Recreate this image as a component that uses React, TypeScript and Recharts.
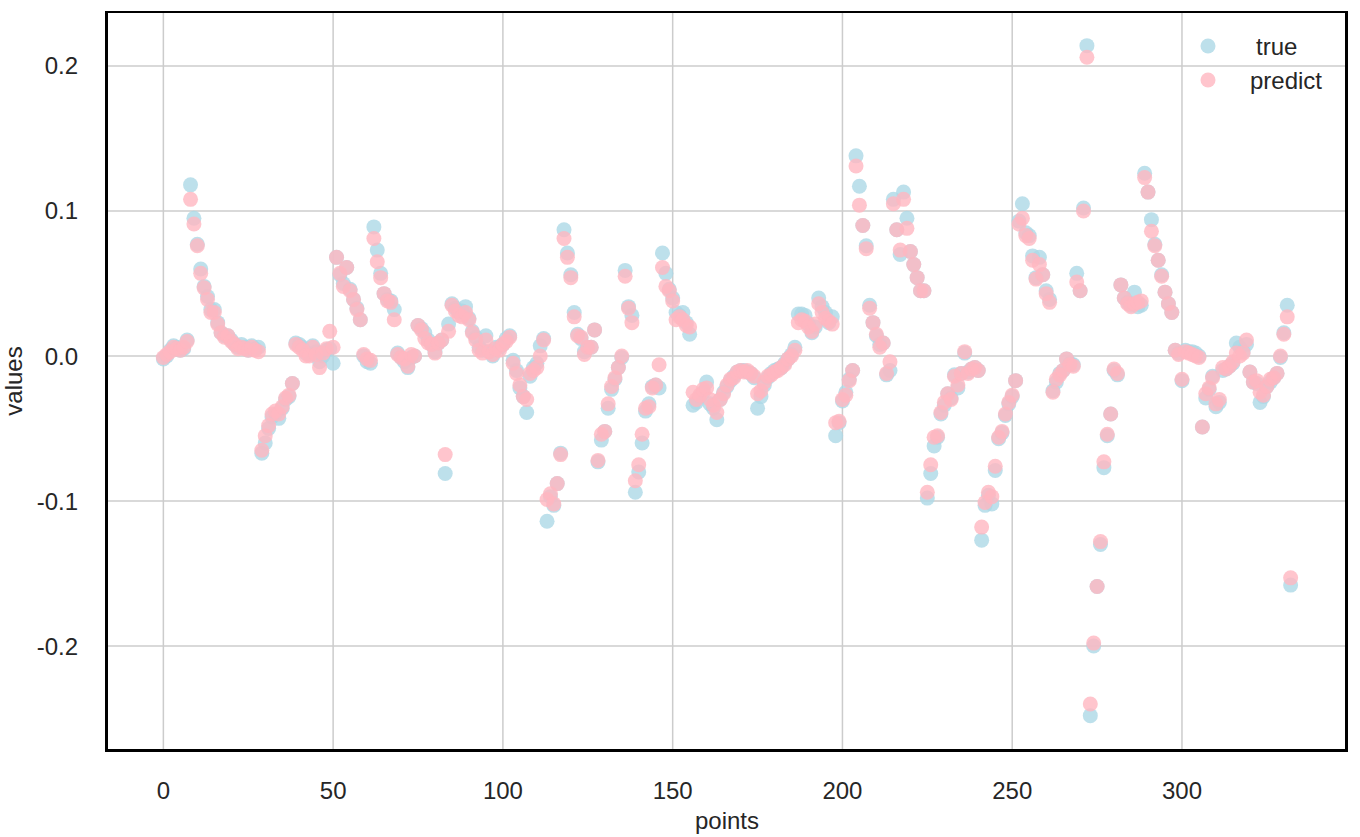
import { ScatterChart, Scatter, XAxis, YAxis, CartesianGrid } from 'recharts'

// values, index = point number
const trueValues = [
  -0.002, 0.0, 0.004, 0.007, 0.006, 0.004, 0.005, 0.011, 0.118, 0.095,
  0.077, 0.06, 0.048, 0.041, 0.032, 0.032, 0.023, 0.016, 0.014, 0.014,
  0.011, 0.008, 0.006, 0.008, 0.006, 0.004, 0.007, 0.005, 0.006, -0.067,
  -0.06, -0.05, -0.042, -0.04, -0.043, -0.036, -0.03, -0.028, -0.019, 0.009,
  0.008, 0.006, 0.002, 0.001, 0.007, 0.003, -0.004, 0.0, 0.004, 0.005,
  -0.005, 0.068, 0.056, 0.05, 0.061, 0.046, 0.039, 0.033, 0.025, 0.0,
  -0.004, -0.005, 0.089, 0.073, 0.057, 0.043, 0.039, 0.038, 0.032, 0.002,
  -0.001, -0.004, -0.008, -0.001, 0.0, 0.021, 0.019, 0.016, 0.011, 0.008,
  0.003, 0.009, 0.011, -0.081, 0.022, 0.036, 0.033, 0.03, 0.031, 0.034,
  0.026, 0.017, 0.013, 0.006, 0.004, 0.014, 0.003, 0.0, 0.006, 0.006,
  0.008, 0.012, 0.014, -0.003, -0.01, -0.022, -0.028, -0.039, -0.014, -0.008,
  -0.005, 0.007, 0.012, -0.114, -0.097, -0.103, -0.088, -0.067, 0.087, 0.071,
  0.056, 0.03, 0.015, 0.012, 0.003, 0.006, 0.006, 0.018, -0.073, -0.058,
  -0.052, -0.036, -0.023, -0.016, -0.008, -0.001, 0.059, 0.034, 0.028, -0.094,
  -0.08, -0.06, -0.038, -0.033, -0.021, -0.02, -0.022, 0.071, 0.057, 0.046,
  0.04, 0.03, 0.028, 0.03, 0.023, 0.015, -0.034, -0.032, -0.028, -0.025,
  -0.018, -0.033, -0.036, -0.044, -0.03, -0.025, -0.021, -0.017, -0.014, -0.011,
  -0.01, -0.01, -0.011, -0.012, -0.015, -0.036, -0.028, -0.02, -0.015, -0.012,
  -0.01, -0.009, -0.008, -0.005, -0.002, 0.001, 0.006, 0.029, 0.029, 0.028,
  0.022, 0.016, 0.02, 0.04, 0.034, 0.03, 0.023, 0.027, -0.055, -0.046,
  -0.031, -0.025, -0.016, -0.01, 0.138, 0.117, 0.09, 0.076, 0.035, 0.023,
  0.014, 0.008, 0.009, -0.013, -0.01, 0.108, 0.087, 0.07, 0.113, 0.095,
  0.072, 0.063, 0.054, 0.045, 0.045, -0.098, -0.081, -0.062, -0.056, -0.04,
  -0.034, -0.026, -0.029, -0.013, -0.022, -0.012, 0.002, -0.011, -0.009, -0.008,
  -0.01, -0.127, -0.103, -0.096, -0.102, -0.079, -0.057, -0.053, -0.041, -0.033,
  -0.028, -0.017, 0.093, 0.105, 0.085, 0.083, 0.069, 0.054, 0.068, 0.056,
  0.045, 0.039, -0.024, -0.018, -0.012, -0.01, -0.002, -0.005, -0.006, 0.057,
  0.045, 0.102, 0.214, -0.248, -0.2, -0.159, -0.13, -0.077, -0.055, -0.04,
  -0.01, -0.013, 0.049, 0.04, 0.037, 0.035, 0.044, 0.034, 0.035, 0.126,
  0.113, 0.094, 0.077, 0.066, 0.056, 0.044, 0.036, 0.03, 0.004, 0.002,
  -0.017, 0.004, 0.003, 0.003, 0.002, 0.0, -0.049, -0.029, -0.023, -0.014,
  -0.035, -0.032, -0.01, -0.009, -0.007, -0.005, 0.009, 0.006, 0.003, 0.008,
  -0.011, -0.018, -0.019, -0.032, -0.028, -0.021, -0.018, -0.015, -0.012, -0.001,
  0.016, 0.035, -0.158,
]

const predictValues = [
  -0.001, 0.001, 0.003, 0.006, 0.005, 0.004, 0.006, 0.01, 0.108, 0.091,
  0.076, 0.057, 0.047, 0.039, 0.03, 0.03, 0.022, 0.016, 0.013, 0.014,
  0.01, 0.008, 0.005, 0.006, 0.005, 0.004, 0.006, 0.004, 0.003, -0.065,
  -0.055, -0.048, -0.04, -0.038, -0.04, -0.035, -0.029, -0.027, -0.019, 0.008,
  0.006, 0.004, 0.0, 0.0, 0.006, 0.001, -0.008, 0.002, 0.005, 0.017,
  0.006, 0.068, 0.057, 0.048, 0.061, 0.045, 0.039, 0.032, 0.025, 0.001,
  -0.002, -0.003, 0.081, 0.065, 0.054, 0.043, 0.038, 0.037, 0.025, 0.001,
  -0.001, -0.002, -0.007, 0.001, 0.0, 0.021, 0.018, 0.012, 0.009, 0.008,
  0.002, 0.009, 0.011, -0.068, 0.017, 0.035, 0.031, 0.028, 0.027, 0.03,
  0.025, 0.016, 0.011, 0.004, 0.002, 0.011, 0.003, 0.001, 0.005, 0.004,
  0.008, 0.01, 0.013, -0.005, -0.012, -0.02, -0.028, -0.03, -0.012, -0.01,
  -0.008, 0.0, 0.011, -0.099, -0.095, -0.102, -0.088, -0.068, 0.081, 0.068,
  0.054, 0.027, 0.014, 0.013, 0.001, 0.006, 0.006, 0.018, -0.072, -0.054,
  -0.052, -0.033, -0.021, -0.015, -0.008, 0.0, 0.055, 0.033, 0.023, -0.086,
  -0.075, -0.054, -0.036, -0.035, -0.022, -0.02, -0.006, 0.061, 0.048, 0.045,
  0.038, 0.025, 0.027, 0.025, 0.021, 0.02, -0.025, -0.03, -0.027, -0.023,
  -0.022, -0.03, -0.034, -0.039, -0.03, -0.026, -0.02, -0.016, -0.015, -0.011,
  -0.01, -0.011, -0.01, -0.012, -0.014, -0.026, -0.024, -0.018, -0.014, -0.013,
  -0.011, -0.01, -0.008, -0.006, -0.002, 0.0, 0.004, 0.023, 0.025, 0.024,
  0.02, 0.017, 0.022, 0.036, 0.03, 0.026, 0.024, 0.022, -0.046, -0.045,
  -0.03, -0.027, -0.017, -0.01, 0.131, 0.104, 0.09, 0.074, 0.033, 0.023,
  0.015, 0.006, 0.009, -0.012, -0.004, 0.105, 0.087, 0.073, 0.108, 0.088,
  0.072, 0.063, 0.054, 0.045, 0.045, -0.094, -0.075, -0.056, -0.055, -0.039,
  -0.032, -0.026, -0.03, -0.014, -0.02, -0.012, 0.003, -0.012, -0.009, -0.008,
  -0.01, -0.118, -0.101, -0.094, -0.097, -0.076, -0.056, -0.052, -0.04, -0.032,
  -0.027, -0.017, 0.091, 0.095, 0.083, 0.081, 0.066, 0.053, 0.063, 0.056,
  0.043, 0.037, -0.025, -0.016, -0.013, -0.01, -0.002, -0.006, -0.007, 0.051,
  0.045, 0.1, 0.206, -0.24, -0.198, -0.159, -0.128, -0.073, -0.054, -0.04,
  -0.009, -0.012, 0.049, 0.04, 0.036, 0.034, 0.036, 0.037, 0.038, 0.123,
  0.113, 0.086, 0.076, 0.066, 0.055, 0.044, 0.036, 0.03, 0.004, 0.001,
  -0.016, 0.003, 0.002, 0.001, 0.0, -0.001, -0.049, -0.026, -0.022, -0.015,
  -0.033, -0.03, -0.008, -0.009, -0.007, -0.004, 0.002, 0.0, 0.002, 0.011,
  -0.011, -0.018, -0.017, -0.025, -0.027, -0.021, -0.016, -0.015, -0.012, 0.0,
  0.015, 0.027, -0.153,
]

const xTicks = [0, 50, 100, 150, 200, 250, 300]
const yTicks = [-0.2, -0.1, 0, 0.1, 0.2]

const trueData = trueValues.map((v, i) => ({ x: i, y: v }))
const predictData = predictValues.map((v, i) => ({ x: i, y: v }))

const FONT = '"Liberation Sans", Arial, sans-serif'
const TEXT = '#262626'
const BLUE = '#add8e6'
const PINK = '#ffb6c1'

const dot = (color: string) => (props: any) => (
  <circle cx={props.cx} cy={props.cy} r={7.5} fill={color} fillOpacity={0.8} />
)

const legendItems = [
  { name: 'true', color: BLUE, textX: 1256, y: 46 },
  { name: 'predict', color: PINK, textX: 1250, y: 80 },
]

const App = () => {
  return (
    <div style={{ position: 'absolute', left: 0, top: 0, width: 1360, height: 837, background: '#fff' }}>
      <ScatterChart width={1360} height={837} margin={{ top: 12, right: 13, bottom: 0, left: 0 }}>
        <CartesianGrid stroke="#cccccc" strokeWidth={1.5} />
        <XAxis
          type="number"
          dataKey="x"
          domain={[-16.6, 348.6]}
          ticks={xTicks}
          allowDataOverflow
          axisLine={false}
          tickLine={false}
          tickSize={0}
          tickMargin={32}
          height={87}
          tick={{ fontSize: 24, fontFamily: FONT, fill: TEXT }}
          label={{
            content: () => (
              <text x={727} y={829} textAnchor="middle" fontSize={24} fontFamily={FONT} fill={TEXT}>
                points
              </text>
            ),
          }}
        />
        <YAxis
          type="number"
          dataKey="y"
          domain={[-0.2717, 0.2372]}
          ticks={yTicks}
          allowDataOverflow
          axisLine={false}
          tickLine={false}
          tickSize={0}
          tickMargin={29}
          width={107}
          tickFormatter={(v: number) => v.toFixed(1)}
          tick={{ fontSize: 24, fontFamily: FONT, fill: TEXT }}
          label={{
            content: () => (
              <text
                x={22}
                y={381}
                transform="rotate(-90 22 381)"
                textAnchor="middle"
                fontSize={24}
                fontFamily={FONT}
                fill={TEXT}
              >
                values
              </text>
            ),
          }}
        />
        <Scatter name="true" data={trueData} fill={BLUE} shape={dot(BLUE)} isAnimationActive={false} />
        <Scatter name="predict" data={predictData} fill={PINK} shape={dot(PINK)} isAnimationActive={false} />
      </ScatterChart>
      <svg width={1360} height={120} style={{ position: 'absolute', left: 0, top: 0, pointerEvents: 'none' }}>
        {legendItems.map((it) => (
          <g key={it.name}>
            <circle cx={1208} cy={it.y} r={7.5} fill={it.color} fillOpacity={0.8} />
            <text x={it.textX} y={it.y} dy="0.36em" fontSize={24} fontFamily={FONT} fill={TEXT}>
              {it.name}
            </text>
          </g>
        ))}
      </svg>
      <div
        style={{
          position: 'absolute',
          left: 105,
          top: 11,
          width: 1243,
          height: 741,
          boxSizing: 'border-box',
          borderLeft: '3px solid #000',
          borderBottom: '3px solid #000',
          borderTop: '2px solid #000',
          borderRight: '3px solid #000',
          pointerEvents: 'none',
        }}
      />
    </div>
  )
}

export default App
